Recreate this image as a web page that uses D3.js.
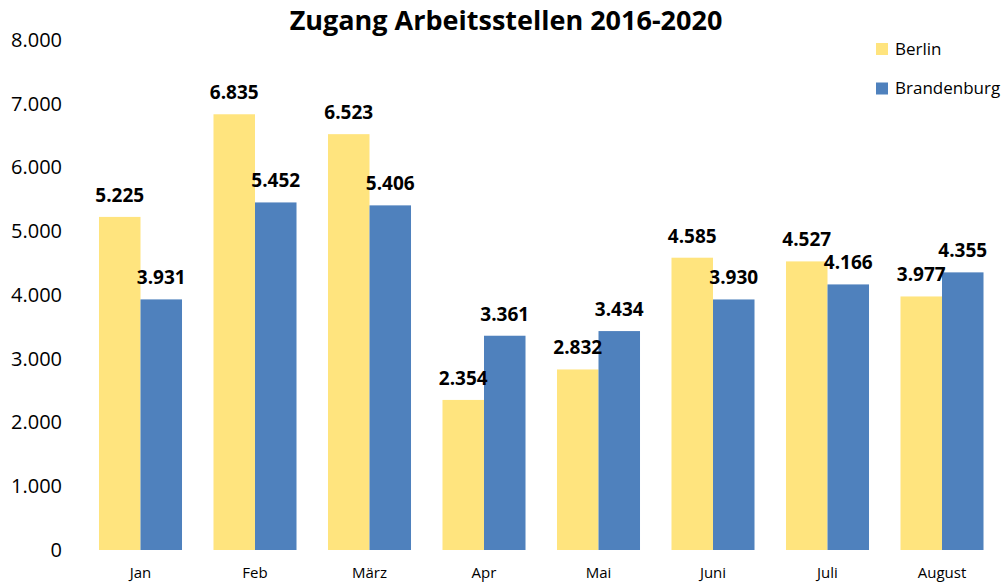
<!DOCTYPE html>
<html><head><meta charset="utf-8">
<script src="https://cdn.jsdelivr.net/npm/d3@7"></script>
<style>body{margin:0;background:#fff}svg{display:block}</style>
</head><body>
<svg id="c" width="1003" height="582"></svg>
<script>
const categories = ["Jan","Feb","März","Apr","Mai","Juni","Juli","August"];
const seriesNames = ["Berlin","Brandenburg"];
const berlin = [5225,6835,6523,2354,2832,4585,4527,3977];
const brandenburg = [3931,5452,5406,3361,3434,3930,4166,4355];
const yTicks = [0,1000,2000,3000,4000,5000,6000,7000,8000];
const colors = ["#FFE47E","#4F81BD"];
const title = "Zugang Arbeitsstellen 2016-2020";

const font = "Open Sans, Lato, sans-serif";
const de = d3.formatLocale({decimal:",",thousands:".",grouping:[3],currency:["","€"]});
const fmt = de.format(",d");

const svg = d3.select("#c");
const x = d3.scaleBand().domain(categories).range([83.25,999.25]).paddingInner(0.275).paddingOuter(0.1375);
const x1 = d3.scaleBand().domain(seriesNames).range([0,x.bandwidth()]);
const y = d3.scaleLinear().domain([0,8000]).range([550,40]);

const data = categories.map((c,i)=>({c, vals:[berlin[i],brandenburg[i]]}));

const g = svg.selectAll("g.grp").data(data).join("g").attr("transform",d=>`translate(${x(d.c)},0)`);
g.selectAll("rect").data(d=>d.vals.map((v,j)=>({v,s:seriesNames[j],j}))).join("rect")
  .attr("x",d=>x1(d.s)).attr("width",x1.bandwidth())
  .attr("y",d=>y(d.v)).attr("height",d=>y(0)-y(d.v)).attr("fill",d=>colors[d.j]);
g.selectAll("text").data(d=>d.vals.map((v,j)=>({v,s:seriesNames[j],j}))).join("text")
  .attr("x",d=>x1(d.s)+x1.bandwidth()/2).attr("y",d=>y(d.v)-15)
  .attr("text-anchor","middle").attr("font-family",font).attr("font-weight","bold")
  .attr("font-size",19).attr("fill","#000").text(d=>fmt(d.v));

// y axis
const ya = svg.append("g").attr("transform","translate(62,0)")
  .call(d3.axisLeft(y).tickValues(yTicks).tickSize(0).tickPadding(0).tickFormat(fmt));
ya.select(".domain").remove();
ya.selectAll("text").attr("font-family",font).attr("font-size",20).attr("fill","#000");

// x axis
const xa = svg.append("g").attr("transform","translate(0,550)")
  .call(d3.axisBottom(x).tickSize(0).tickPadding(17));
xa.select(".domain").remove();
xa.selectAll("text").attr("font-family",font).attr("font-size",15).attr("fill","#000");

// title
svg.append("text").attr("x",506).attr("y",30).attr("text-anchor","middle")
  .attr("font-family",font).attr("font-weight","bold").attr("font-size",27).attr("fill","#000").text(title);

// legend
const lg = svg.append("g").selectAll("g").data(seriesNames).join("g")
  .attr("transform",(d,i)=>`translate(876,${43+i*39.5})`);
lg.append("rect").attr("width",12).attr("height",12).attr("fill",(d,i)=>colors[i]);
lg.append("text").attr("x",19).attr("y",11.5).attr("font-family",font).attr("font-size",17).attr("fill","#000").text(d=>d);
</script>
</body></html>
